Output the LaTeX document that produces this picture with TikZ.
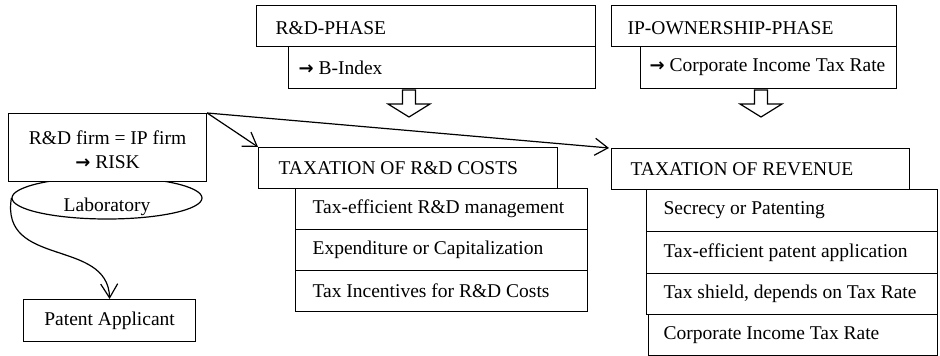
\documentclass[tikz,border=0pt]{standalone}
\usepackage{fontspec}
\setmainfont{Liberation Serif}
\newfontfamily\arrfont{DejaVu Sans}
\usetikzlibrary{arrows.meta,shapes.geometric}
\newcommand{\fz}{\fontsize{19.5}{24}\selectfont}
\newcommand{\lbox}[2]{\makebox[#1pt][l]{#2}}
\newcommand{\rarr}{{\arrfont\bfseries\fontsize{18}{24}\selectfont →}}
\tikzset{
  bx/.style={draw, fill=white, line width=1.2pt, anchor=north west, font=\fz, inner ysep=0pt},
  cbx/.style={draw, fill=white, line width=1.2pt, anchor=north west, font=\fz, align=center, inner sep=0pt},
  conn/.style={line width=1.2pt, -{Straight Barb[length=13pt,width=17pt,line width=1.2pt]}},
  hollow/.style={draw, line width=1.2pt, fill=white}
}
\begin{document}
\begin{tikzpicture}[x=1pt,y=-1pt]
\useasboundingbox (0,0) rectangle (940,356);
% top phase boxes
\node[bx, inner xsep=19pt, minimum width=339pt, minimum height=41pt] (rdphase) at (256,5) {\lbox{301}{\raisebox{-2pt}[\height][\depth]{R\&D-PHASE}}};
\node[bx, inner xsep=10pt, minimum width=307pt, minimum height=42pt] (bindex) at (288,46) {\lbox{287}{\rarr{} B-Index}};
\node[bx, inner xsep=16pt, minimum width=285pt, minimum height=41pt] (ipphase) at (611,5) {\lbox{253}{\raisebox{-2pt}[\height][\depth]{IP-OWNERSHIP-PHASE}}};
\node[bx, inner xsep=9pt, minimum width=256pt, minimum height=42pt] (citr) at (640,46) {\lbox{238}{\rarr{} Corporate Income Tax Rate}};
% hollow arrows
\coordinate (ha1) at (409,90);
\coordinate (ha2) at (761,90);
\draw[hollow] (ha1) ++(-6.5,0) -- ++(13,0) -- ++(0,14) -- ++(14.5,0) -- ++(-21,13) -- ++(-21,-13) -- ++(14.5,0) -- cycle;
\draw[hollow] (ha2) ++(-6.5,0) -- ++(13,0) -- ++(0,14) -- ++(14.5,0) -- ++(-21,13) -- ++(-21,-13) -- ++(14.5,0) -- cycle;
% taxation of R&D costs
\node[bx, inner xsep=20pt, minimum width=299pt, minimum height=41pt] (costs) at (258,147) {\lbox{259}{TAXATION OF R\&D COSTS}};
\node[bx, inner xsep=17pt, minimum width=292pt, minimum height=41pt] (c1) at (295,188) {\lbox{258}{Tax-efficient R\&D management}};
\node[bx, inner xsep=17pt, minimum width=292pt, minimum height=41pt] (c2) at (295,229) {\lbox{258}{Expenditure or Capitalization}};
\node[bx, inner xsep=17pt, minimum width=292pt, minimum height=41pt] (c3) at (295,270) {\lbox{258}{Tax Incentives for R\&D Costs}};
% taxation of revenue
\node[bx, inner xsep=19pt, minimum width=298pt, minimum height=41pt] (revenue) at (611,148) {\lbox{260}{TAXATION OF REVENUE}};
\node[bx, inner xsep=17pt, minimum width=291pt, minimum height=42pt] (r1) at (646,189) {\lbox{257}{Secrecy or Patenting}};
\node[bx, inner xsep=17pt, minimum width=291pt, minimum height=42pt] (r2) at (646,231) {\lbox{257}{Tax-efficient patent application}};
\node[bx, inner xsep=17pt, minimum width=291pt, minimum height=41pt] (r3) at (646,273) {\lbox{257}{Tax shield, depends on Tax Rate}};
\node[bx, inner xsep=15pt, minimum width=289pt, minimum height=41pt] (r4) at (648,314) {\lbox{259}{Corporate Income Tax Rate}};
% left side
\node[draw, line width=1.2pt, ellipse, minimum width=190pt, minimum height=42pt, inner sep=0pt, font=\fz] (lab) at (107,198) {\raisebox{-9pt}[\height][\depth]{Laboratory}};
\node[cbx, minimum width=198pt, minimum height=68pt] (firm) at (8,113) {\raisebox{-4pt}[\height][\depth]{\begin{tabular}{@{}c@{}}R\&D firm = IP firm\\\rarr{} RISK\end{tabular}}};
\node[cbx, minimum width=172pt, minimum height=42pt] (pa) at (23,299) {Patent Applicant};
% connectors
\draw[conn] (firm.north east) -- (costs.north west);
\draw[conn] (firm.north east) -- ([xshift=-2pt]revenue.north west);
\draw[line width=1.2pt, -{Straight Barb[length=14pt,width=17pt,line width=1.2pt]}] (lab.west) .. controls (0,268) and (108,238) .. (pa.north);
\end{tikzpicture}
\end{document}
